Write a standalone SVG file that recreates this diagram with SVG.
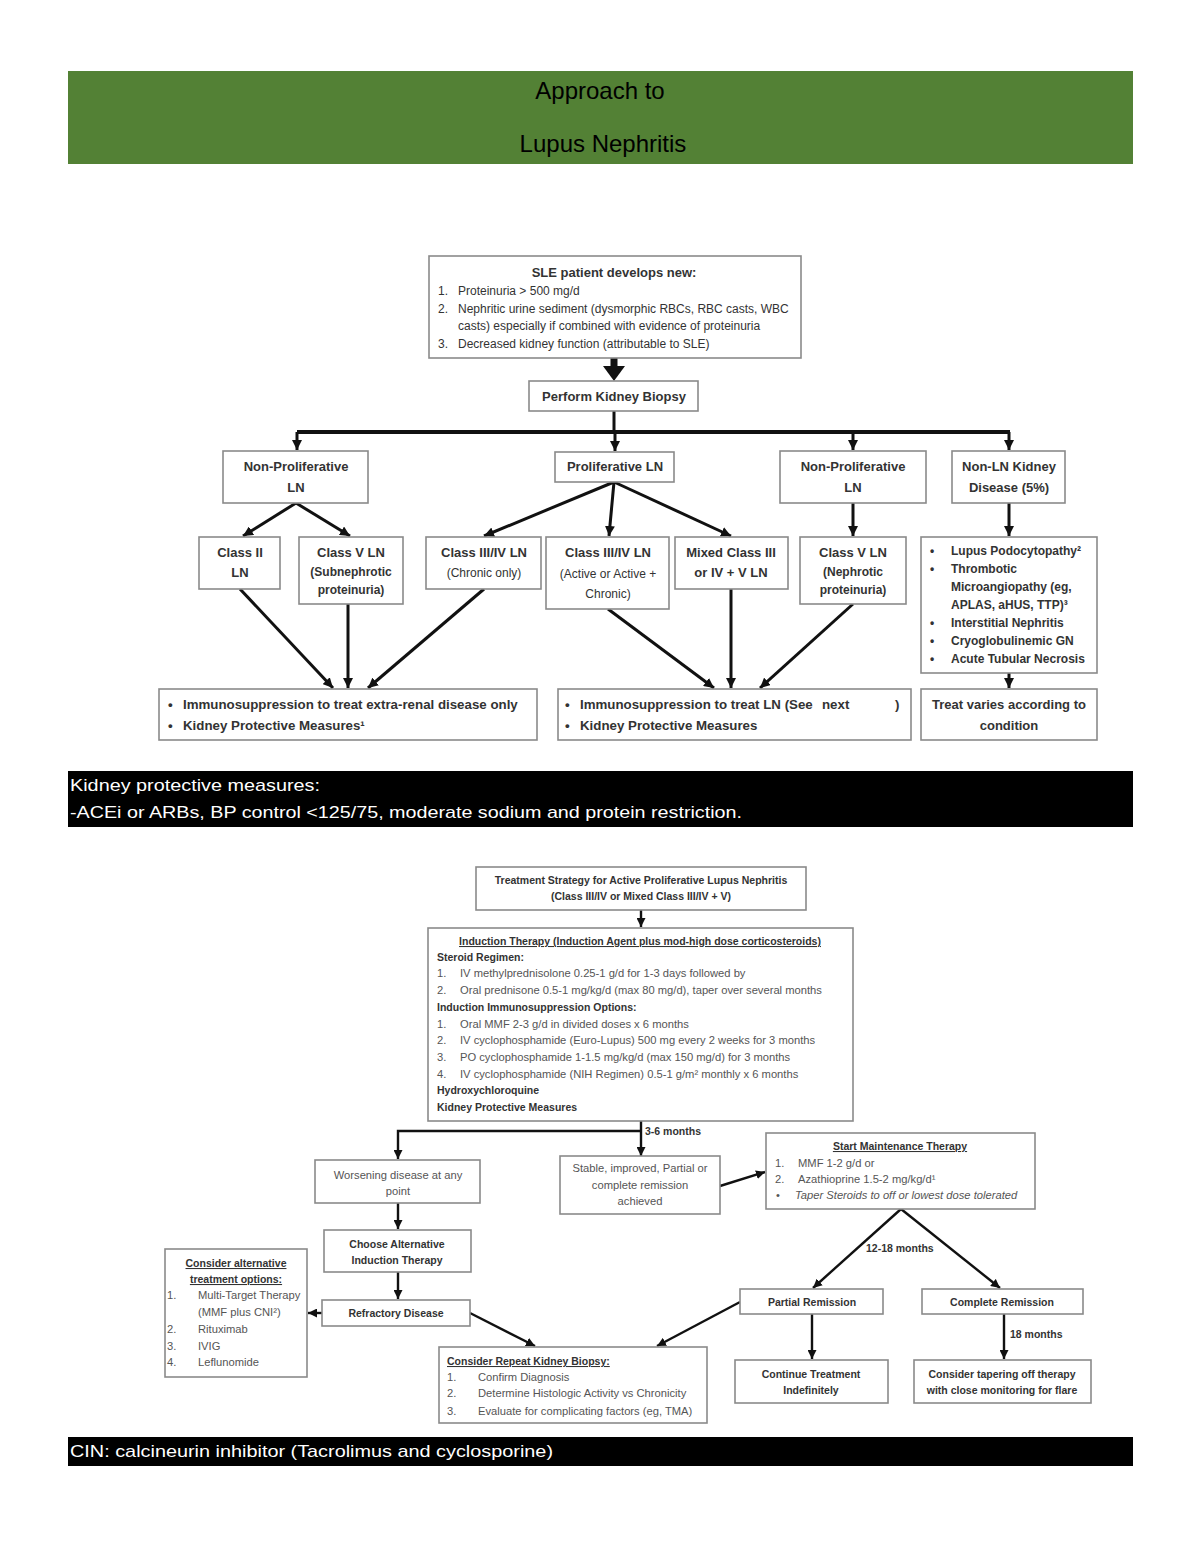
<svg xmlns="http://www.w3.org/2000/svg" width="1200" height="1553" viewBox="0 0 1200 1553">
<defs>
<style>
.box{fill:#fff;stroke:#8a8a8a;stroke-width:1.6}
.t{font-family:"Liberation Sans",Arial,sans-serif;fill:#333}
.b{font-weight:bold}
.c{text-anchor:middle}
.s13{font-size:13px}
.s12{font-size:12px}
.s10{font-size:10.5px}
.g{fill:#555;font-size:11.2px}
.u{text-decoration:underline}
.ln{stroke:#111;stroke-width:3;fill:none}
.ln2{stroke:#111;stroke-width:2.4;fill:none}
.w{font-family:"Liberation Sans",Arial,sans-serif;fill:#fff;font-size:17px}
</style>
<marker id="ah" viewBox="0 0 10 10" refX="10" refY="5" markerWidth="10" markerHeight="10" markerUnits="userSpaceOnUse" orient="auto"><path d="M0,0 L10,5 L0,10 z" fill="#111"/></marker>
<marker id="ah2" viewBox="0 0 10 10" refX="10" refY="5" markerWidth="9" markerHeight="9" markerUnits="userSpaceOnUse" orient="auto"><path d="M0,0 L10,5 L0,10 z" fill="#111"/></marker>
</defs>
<rect width="1200" height="1553" fill="#fff"/>

<g id="header">
<rect x="68" y="71" width="1065" height="93" fill="#538135"/>
<text x="600" y="99" class="c" font-family="Liberation Sans,Arial,sans-serif" font-size="24" fill="#000">Approach to</text>
<text x="603" y="152" class="c" font-family="Liberation Sans,Arial,sans-serif" font-size="24" fill="#000">Lupus Nephritis</text>
</g>

<g id="connectors-top">
<line x1="614" y1="358" x2="614" y2="368" stroke="#111" stroke-width="7"/>
<polygon points="603,366 625,366 614,381" fill="#111"/>
<path class="ln" d="M614,411 V432"/>
<path d="M297,432 H1010" stroke="#111" stroke-width="4" fill="none"/>
<path class="ln" d="M297,432 V450" marker-end="url(#ah)"/>
<path class="ln" d="M615,432 V451" marker-end="url(#ah)"/>
<path class="ln" d="M853,432 V450" marker-end="url(#ah)"/>
<path class="ln" d="M1009,432 V450" marker-end="url(#ah)"/>
<path class="ln" d="M296,503 L243,536" marker-end="url(#ah)"/>
<path class="ln" d="M296,503 L350,536" marker-end="url(#ah)"/>
<path class="ln" d="M614,482 L484,536" marker-end="url(#ah)"/>
<path class="ln" d="M614,482 L609,536" marker-end="url(#ah)"/>
<path class="ln" d="M614,482 L731,536" marker-end="url(#ah)"/>
<path class="ln" d="M853,503 V536" marker-end="url(#ah)"/>
<path class="ln" d="M1009,503 V536" marker-end="url(#ah)"/>
<path class="ln" d="M240,589 L333,688" marker-end="url(#ah)"/>
<path class="ln" d="M348,604 V688" marker-end="url(#ah)"/>
<path class="ln" d="M484,589 L368,688" marker-end="url(#ah)"/>
<path class="ln" d="M608,609 L714,688" marker-end="url(#ah)"/>
<path class="ln" d="M731,589 V688" marker-end="url(#ah)"/>
<path class="ln" d="M853,604 L760,688" marker-end="url(#ah)"/>
<path class="ln" d="M1009,673 V688" marker-end="url(#ah)"/>
</g>

<g id="sle">
<rect class="box" x="429" y="256" width="372" height="102"/>
<text x="614" y="277" class="t b c s13">SLE patient develops new:</text>
<text class="t s12"><tspan x="438" y="295">1.</tspan><tspan x="458" y="295">Proteinuria &gt; 500 mg/d</tspan></text>
<text class="t s12"><tspan x="438" y="313">2.</tspan><tspan x="458" y="313">Nephritic urine sediment (dysmorphic RBCs, RBC casts, WBC</tspan></text>
<text class="t s12" x="458" y="330">casts) especially if combined with evidence of proteinuria</text>
<text class="t s12"><tspan x="438" y="348">3.</tspan><tspan x="458" y="348">Decreased kidney function (attributable to SLE)</tspan></text>
</g>

<g id="biopsy">
<rect class="box" x="529" y="381" width="169" height="30"/>
<text x="614" y="401" class="t b c s13">Perform Kidney Biopsy</text>
</g>

<g id="nonprolif-left">
<rect class="box" x="223" y="451" width="145" height="52"/>
<text class="t b c s13"><tspan x="296" y="471">Non-Proliferative</tspan><tspan x="296" y="492">LN</tspan></text>
</g>
<g id="prolif">
<rect class="box" x="555" y="452" width="119" height="30"/>
<text x="615" y="471" class="t b c s13">Proliferative LN</text>
</g>
<g id="nonprolif-right">
<rect class="box" x="780" y="451" width="146" height="52"/>
<text class="t b c s13"><tspan x="853" y="471">Non-Proliferative</tspan><tspan x="853" y="492">LN</tspan></text>
</g>
<g id="nonln">
<rect class="box" x="952" y="451" width="113" height="52"/>
<text class="t b c s13"><tspan x="1009" y="471">Non-LN Kidney</tspan><tspan x="1009" y="492">Disease (5%)</tspan></text>
</g>

<g id="class2">
<rect class="box" x="199" y="537" width="81" height="52"/>
<text class="t b c s13"><tspan x="240" y="557">Class II</tspan><tspan x="240" y="577">LN</tspan></text>
</g>
<g id="class5-sub">
<rect class="box" x="299" y="537" width="104" height="67"/>
<text x="351" y="557" class="t b c s13">Class V LN</text>
<text class="t b c s12"><tspan x="351" y="576">(Subnephrotic</tspan><tspan x="351" y="594">proteinuria)</tspan></text>
</g>
<g id="class34-chronic">
<rect class="box" x="426" y="537" width="115" height="52"/>
<text x="484" y="557" class="t b c s13">Class III/IV LN</text>
<text x="484" y="577" class="t c s12">(Chronic only)</text>
</g>
<g id="class34-active">
<rect class="box" x="546" y="537" width="123" height="72"/>
<text x="608" y="557" class="t b c s13">Class III/IV LN</text>
<text class="t c s12"><tspan x="608" y="578">(Active or Active +</tspan><tspan x="608" y="598">Chronic)</tspan></text>
</g>
<g id="mixed">
<rect class="box" x="675" y="537" width="113" height="52"/>
<text class="t b c s13"><tspan x="731" y="557">Mixed Class III</tspan><tspan x="731" y="577">or IV + V LN</tspan></text>
</g>
<g id="class5-neph">
<rect class="box" x="800" y="537" width="106" height="67"/>
<text x="853" y="557" class="t b c s13">Class V LN</text>
<text class="t b c s12"><tspan x="853" y="576">(Nephrotic</tspan><tspan x="853" y="594">proteinuria)</tspan></text>
</g>
<g id="nonln-list">
<rect class="box" x="921" y="537" width="176" height="136"/>
<text class="t b s12">
<tspan x="930" y="555">•</tspan><tspan x="951" y="555">Lupus Podocytopathy²</tspan>
<tspan x="930" y="573">•</tspan><tspan x="951" y="573">Thrombotic</tspan>
<tspan x="951" y="591">Microangiopathy (eg,</tspan>
<tspan x="951" y="609">APLAS, aHUS, TTP)³</tspan>
<tspan x="930" y="627">•</tspan><tspan x="951" y="627">Interstitial Nephritis</tspan>
<tspan x="930" y="645">•</tspan><tspan x="951" y="645">Cryoglobulinemic GN</tspan>
<tspan x="930" y="663">•</tspan><tspan x="951" y="663">Acute Tubular Necrosis</tspan>
</text>
</g>

<g id="out-extrarenal">
<rect class="box" x="159" y="689" width="378" height="51"/>
<text class="t b" font-size="13.3"><tspan x="168" y="709">•</tspan><tspan x="183" y="709">Immunosuppression to treat extra-renal disease only</tspan><tspan x="168" y="730">•</tspan><tspan x="183" y="730">Kidney Protective Measures¹</tspan></text>
</g>
<g id="out-ln">
<rect class="box" x="558" y="689" width="353" height="51"/>
<text class="t b" font-size="13.3"><tspan x="565" y="709">•</tspan><tspan x="580" y="709">Immunosuppression to treat LN (See</tspan><tspan x="822" y="709">next</tspan><tspan x="895" y="709">)</tspan><tspan x="565" y="730">•</tspan><tspan x="580" y="730">Kidney Protective Measures</tspan></text>
</g>
<g id="out-varies">
<rect class="box" x="921" y="689" width="176" height="51"/>
<text class="t b c s13"><tspan x="1009" y="709">Treat varies according to</tspan><tspan x="1009" y="730">condition</tspan></text>
</g>

<g id="note-kidney">
<rect x="68" y="771" width="1065" height="56" fill="#000"/>
<text x="70" y="791" class="w" textLength="250" lengthAdjust="spacingAndGlyphs">Kidney protective measures:</text>
<text x="70" y="818" class="w" textLength="672" lengthAdjust="spacingAndGlyphs">-ACEi or ARBs, BP control &lt;125/75, moderate sodium and protein restriction.</text>
</g>

<g id="connectors-bottom">
<path class="ln2" d="M641,910 V927" marker-end="url(#ah2)"/>
<path class="ln2" d="M641,1121 V1156" marker-end="url(#ah2)"/>
<path class="ln2" d="M641,1131 H398 V1159" marker-end="url(#ah2)"/>
<path class="ln2" d="M720,1186 L765,1172" marker-end="url(#ah2)"/>
<path class="ln2" d="M901,1209 L813,1288" marker-end="url(#ah2)"/>
<path class="ln2" d="M901,1209 L1000,1288" marker-end="url(#ah2)"/>
<path class="ln2" d="M812,1314 V1359" marker-end="url(#ah2)"/>
<path class="ln2" d="M1004,1314 V1359" marker-end="url(#ah2)"/>
<path class="ln2" d="M740,1302 L657,1346" marker-end="url(#ah2)"/>
<path class="ln2" d="M398,1203 V1229" marker-end="url(#ah2)"/>
<path class="ln2" d="M398,1272 V1299" marker-end="url(#ah2)"/>
<path class="ln2" d="M322,1313 H308" marker-end="url(#ah2)"/>
<path class="ln2" d="M470,1313 L535,1346" marker-end="url(#ah2)"/>
</g>

<g id="strategy">
<rect class="box" x="476" y="867" width="330" height="43"/>
<text class="t b c s10"><tspan x="641" y="884">Treatment Strategy for Active Proliferative Lupus Nephritis</tspan><tspan x="641" y="900">(Class III/IV or Mixed Class III/IV + V)</tspan></text>
</g>

<g id="induction">
<rect class="box" x="428" y="928" width="425" height="193"/>
<text x="640" y="945" class="t b c s10 u">Induction Therapy (Induction Agent plus mod-high dose corticosteroids)</text>
<text x="437" y="961" class="t b s10">Steroid Regimen:</text>
<text class="t g"><tspan x="437" y="977">1.</tspan><tspan x="460" y="977">IV methylprednisolone 0.25-1 g/d for 1-3 days followed by</tspan></text>
<text class="t g"><tspan x="437" y="994">2.</tspan><tspan x="460" y="994">Oral prednisone 0.5-1 mg/kg/d (max 80 mg/d), taper over several months</tspan></text>
<text x="437" y="1011" class="t b s10">Induction Immunosuppression Options:</text>
<text class="t g"><tspan x="437" y="1028">1.</tspan><tspan x="460" y="1028">Oral MMF 2-3 g/d in divided doses x 6 months</tspan></text>
<text class="t g"><tspan x="437" y="1044">2.</tspan><tspan x="460" y="1044">IV cyclophosphamide (Euro-Lupus) 500 mg every 2 weeks for 3 months</tspan></text>
<text class="t g"><tspan x="437" y="1061">3.</tspan><tspan x="460" y="1061">PO cyclophosphamide 1-1.5 mg/kg/d (max 150 mg/d) for 3 months</tspan></text>
<text class="t g"><tspan x="437" y="1078">4.</tspan><tspan x="460" y="1078">IV cyclophosphamide (NIH Regimen) 0.5-1 g/m² monthly x 6 months</tspan></text>
<text x="437" y="1094" class="t b s10">Hydroxychloroquine</text>
<text x="437" y="1111" class="t b s10">Kidney Protective Measures</text>
</g>

<g id="label-36">
<text x="645" y="1135" class="t b s10">3-6 months</text>
</g>

<g id="worsening">
<rect class="box" x="315" y="1160" width="165" height="43"/>
<text class="t g c"><tspan x="398" y="1179">Worsening disease at any</tspan><tspan x="398" y="1195">point</tspan></text>
</g>
<g id="stable">
<rect class="box" x="560" y="1156" width="160" height="58"/>
<text class="t g c"><tspan x="640" y="1172">Stable, improved, Partial or</tspan><tspan x="640" y="1189">complete remission</tspan><tspan x="640" y="1205">achieved</tspan></text>
</g>
<g id="maintenance">
<rect class="box" x="766" y="1133" width="269" height="76"/>
<text x="900" y="1150" class="t b c s10 u">Start Maintenance Therapy</text>
<text class="t g"><tspan x="775" y="1167">1.</tspan><tspan x="798" y="1167">MMF 1-2 g/d or</tspan></text>
<text class="t g"><tspan x="775" y="1183">2.</tspan><tspan x="798" y="1183">Azathioprine 1.5-2 mg/kg/d¹</tspan></text>
<text class="t g"><tspan x="776" y="1199">•</tspan><tspan x="795" y="1199" font-style="italic">Taper Steroids to off or lowest dose tolerated</tspan></text>
</g>
<g id="label-1218">
<text x="866" y="1252" class="t b s10">12-18 months</text>
</g>
<g id="partial">
<rect class="box" x="740" y="1289" width="143" height="25"/>
<text x="812" y="1306" class="t b c s10">Partial Remission</text>
</g>
<g id="complete">
<rect class="box" x="922" y="1289" width="161" height="25"/>
<text x="1002" y="1306" class="t b c s10">Complete Remission</text>
</g>
<g id="label-18">
<text x="1010" y="1338" class="t b s10">18 months</text>
</g>
<g id="continue">
<rect class="box" x="735" y="1360" width="153" height="43"/>
<text class="t b c s10"><tspan x="811" y="1378">Continue Treatment</tspan><tspan x="811" y="1394">Indefinitely</tspan></text>
</g>
<g id="tapering">
<rect class="box" x="914" y="1360" width="177" height="43"/>
<text class="t b c s10"><tspan x="1002" y="1378">Consider tapering off therapy</tspan><tspan x="1002" y="1394">with close monitoring for flare</tspan></text>
</g>
<g id="choose">
<rect class="box" x="324" y="1230" width="147" height="42"/>
<text class="t b c s10"><tspan x="397" y="1248">Choose Alternative</tspan><tspan x="397" y="1264">Induction Therapy</tspan></text>
</g>
<g id="refractory">
<rect class="box" x="322" y="1300" width="148" height="26"/>
<text x="396" y="1317" class="t b c s10">Refractory Disease</text>
</g>
<g id="alternatives">
<rect class="box" x="165" y="1249" width="142" height="128"/>
<text class="t b c s10 u"><tspan x="236" y="1267">Consider alternative</tspan></text>
<text class="t b c s10 u"><tspan x="236" y="1283">treatment options:</tspan></text>
<text class="t g"><tspan x="167" y="1299">1.</tspan><tspan x="198" y="1299">Multi-Target Therapy</tspan></text>
<text class="t g" x="198" y="1316">(MMF plus CNI²)</text>
<text class="t g"><tspan x="167" y="1333">2.</tspan><tspan x="198" y="1333">Rituximab</tspan></text>
<text class="t g"><tspan x="167" y="1350">3.</tspan><tspan x="198" y="1350">IVIG</tspan></text>
<text class="t g"><tspan x="167" y="1366">4.</tspan><tspan x="198" y="1366">Leflunomide</tspan></text>
</g>
<g id="repeat-biopsy">
<rect class="box" x="439" y="1347" width="268" height="76"/>
<text x="447" y="1365" class="t b s10 u">Consider Repeat Kidney Biopsy:</text>
<text class="t g"><tspan x="447" y="1381">1.</tspan><tspan x="478" y="1381">Confirm Diagnosis</tspan></text>
<text class="t g"><tspan x="447" y="1397">2.</tspan><tspan x="478" y="1397">Determine Histologic Activity vs Chronicity</tspan></text>
<text class="t g"><tspan x="447" y="1415">3.</tspan><tspan x="478" y="1415">Evaluate for complicating factors (eg, TMA)</tspan></text>
</g>

<g id="note-cin">
<rect x="68" y="1437" width="1065" height="29" fill="#000"/>
<text x="70" y="1457" class="w" textLength="483" lengthAdjust="spacingAndGlyphs">CIN: calcineurin inhibitor (Tacrolimus and cyclosporine)</text>
</g>
</svg>
